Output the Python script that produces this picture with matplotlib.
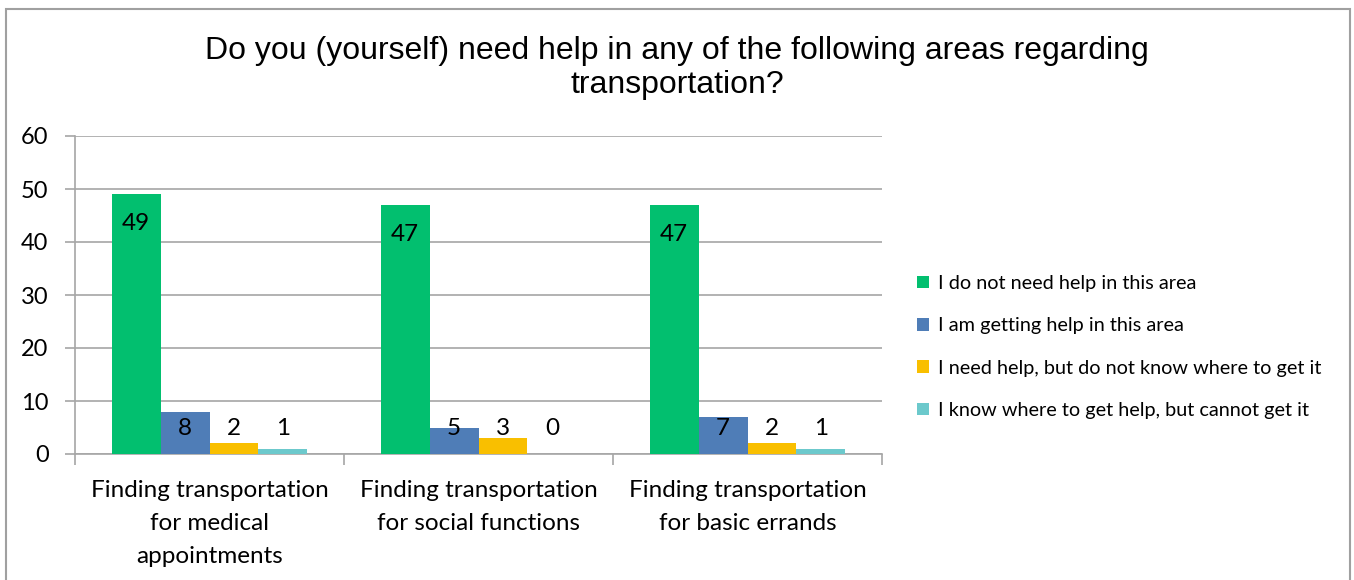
import numpy as np
import matplotlib.pyplot as plt
from matplotlib.patches import Rectangle

categories = ['Finding transportation\nfor medical\nappointments',
              'Finding transportation\nfor social functions',
              'Finding transportation\nfor basic errands']
series = ['I do not need help in this area',
          'I am getting help in this area',
          'I need help, but do not know where to get it',
          'I know where to get help, but cannot get it']
not_needed = [49, 47, 47]
getting_help = [8, 5, 7]
need_no_source = [2, 3, 2]
cannot_get = [1, 0, 1]
yticks = [0, 10, 20, 30, 40, 50, 60]

values = [not_needed, getting_help, need_no_source, cannot_get]
colors = ['#02BF6F', '#4F7DB7', '#F9BF00', '#6CC9CC']

plt.rcParams['font.family'] = ['Lato', 'DejaVu Sans']

fig = plt.figure(figsize=(13.54, 5.8), dpi=100)
# outer chart frame
fig.patches.append(Rectangle((6/1354, -0.05), 1344/1354, 1.05 - 9/580,
                             transform=fig.transFigure, fill=False,
                             edgecolor='#A0A0A0', linewidth=1.5))

ax = fig.add_axes([75/1354, 1 - 454/580, 807/1354, 318/580])

x = np.arange(len(categories))
width = 0.182
for i, (vals, col, name) in enumerate(zip(values, colors, series)):
    pos = x + (i - 1.5) * width
    ax.bar(pos, vals, width, color=col, label=name, zorder=3)
    for p, v in zip(pos, vals):
        ax.text(p, max(v - 5.5, 4.9), str(v), ha='center', va='center',
                fontsize=17.5, color='black', zorder=4)

ax.set_xlim(-0.5, len(categories) - 0.5)
ax.set_ylim(0, 60)
ax.set_yticks(yticks)
ax.set_yticklabels([str(t) for t in yticks], fontsize=17)
ax.yaxis.grid(True, color='#A6A6A6', linewidth=1.2, zorder=0)

ax.set_xticks(x)
ax.set_xticklabels(categories, fontsize=17.5, linespacing=1.68)
ax.tick_params(axis='x', length=0, pad=19)
ax.set_xticks(np.arange(-0.5, len(categories)), minor=True)
ax.tick_params(axis='x', which='minor', length=8, color='#A6A6A6', width=1.2)
ax.tick_params(axis='y', length=7, color='#A6A6A6', width=1.2, pad=12)

for s in ['top', 'right']:
    ax.spines[s].set_visible(False)
for s in ['left', 'bottom']:
    ax.spines[s].set_color('#A6A6A6')
    ax.spines[s].set_linewidth(1.2)

fig.text(677/1354, 1 - 68/580,
         'Do you (yourself) need help in any of the following areas regarding\ntransportation?',
         ha='center', va='center', fontsize=23, family='Liberation Sans',
         linespacing=1.2)

fig.legend(loc='center left', bbox_to_anchor=(899/1354, 1 - 347/580),
           frameon=False, fontsize=14.3, handlelength=0.6, handleheight=0.6,
           handletextpad=0.45, labelspacing=1.28)

fig.savefig('out.png', dpi=100)
